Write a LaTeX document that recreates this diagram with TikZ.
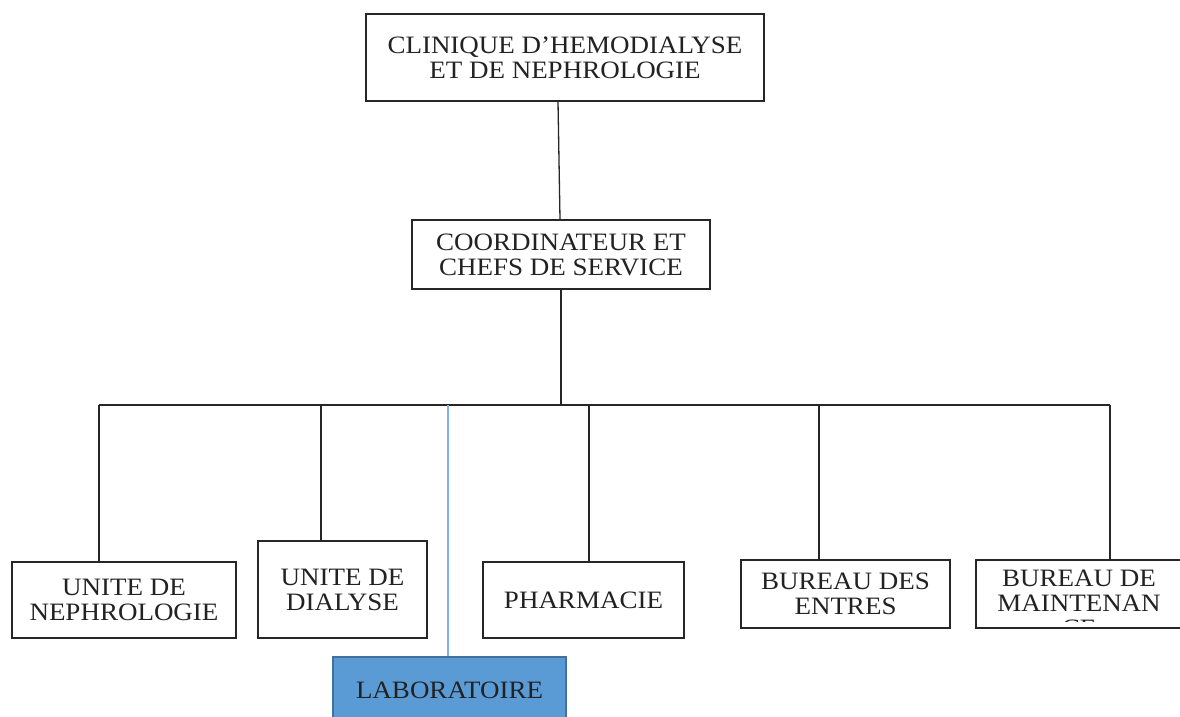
\documentclass[tikz,border=0pt]{standalone}
\usepackage{fontspec}
\setmainfont[FakeStretch=1.08]{Liberation Serif}
\definecolor{txt}{HTML}{222222}
\definecolor{labfill}{HTML}{5B9BD5}
\definecolor{labdraw}{HTML}{41719C}
\definecolor{labline}{HTML}{7FB2E5}
\tikzset{
  orgbox/.style={draw=black!85, line width=1.3pt, fill=white, inner sep=0pt, align=center,
    text=txt, font=\fontsize{25}{25}\selectfont},
  link/.style={draw=black!85, line width=1.3pt},
}
\begin{document}
\begin{tikzpicture}[x=1pt,y=-1pt]
\clip (0,0) rectangle (1180,716);
\fill[white] (0,0) rectangle (1180,716);
% boxes
\node[orgbox, minimum width=398, minimum height=87] (top) at (565,57.5) {CLINIQUE D’HEMODIALYSE\\ET DE NEPHROLOGIE};
\node[orgbox, minimum width=298, minimum height=69] (coord) at (561,254.5) {COORDINATEUR ET\\CHEFS DE SERVICE};
\node[orgbox, minimum width=224, minimum height=76] (neph) at (124,600) {UNITE DE\\NEPHROLOGIE};
\node[orgbox, minimum width=169, minimum height=97] (dial) at (342.5,589.5) {UNITE DE\\DIALYSE};
\node[orgbox, minimum width=201, minimum height=76] (phar) at (583.5,600) {PHARMACIE};
\node[orgbox, minimum width=209, minimum height=68] (entr) at (845.5,594) {BUREAU DES\\ENTRES};
\node[orgbox, minimum width=230, minimum height=68] (maint) at (1091,594) {};
\begin{scope}
  \clip (977,561) rectangle (1180,621);
  \node[align=center, inner sep=0pt, text=txt, font=\fontsize{25}{25}\selectfont] (mainttext) at (1079,603) {BUREAU DE\\MAINTENAN\\CE};
\end{scope}
\node[orgbox, fill=labfill, draw=labdraw, minimum width=233, minimum height=66] (lab) at (449.5,690) {LABORATOIRE};
% bus
\coordinate (b1) at (99,405);
\coordinate (b2) at (321,405);
\coordinate (b3) at (448,405);
\coordinate (b4) at (589,405);
\coordinate (b5) at (819,405);
\coordinate (b6) at (1110,405);
\draw[link] ([xshift=-7pt]top.south) -- ([xshift=-1pt]coord.north);
\draw[link] (coord.south) -- (coord.south |- b1);
\draw[link] (b1) -- (b6);
\draw[link] (b1) -- (b1 |- neph.north);
\draw[link] (b2) -- (b2 |- dial.north);
\draw[link] (b4) -- (b4 |- phar.north);
\draw[link] (b5) -- (b5 |- entr.north);
\draw[link] (b6) -- (b6 |- maint.north);
\draw[labline, line width=1.3pt] (b3) -- (b3 |- lab.north);
\end{tikzpicture}
\end{document}
